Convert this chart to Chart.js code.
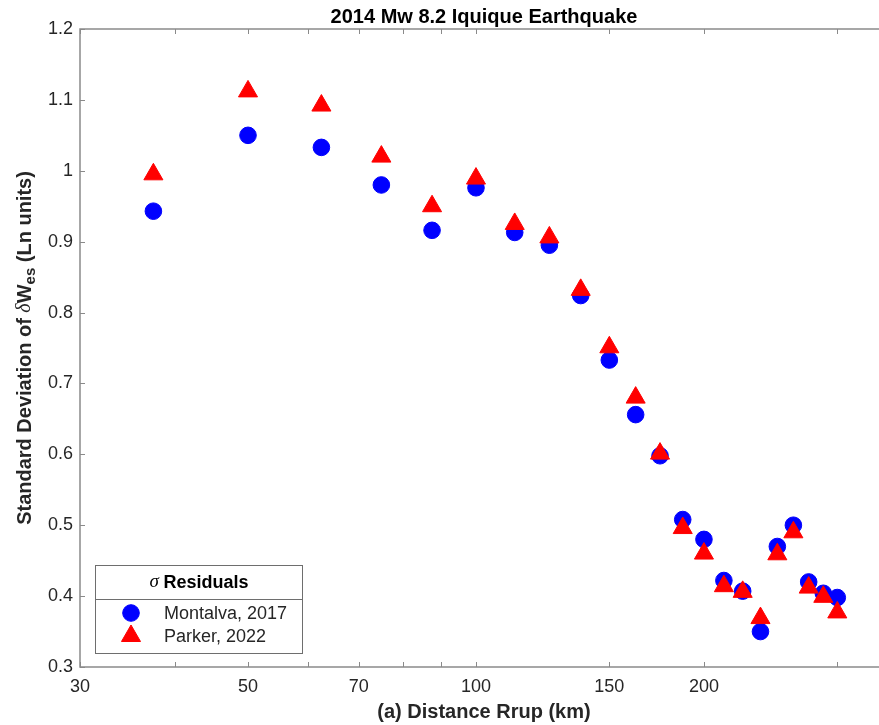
<!DOCTYPE html>
<html>
<head>
<meta charset="utf-8">
<script src="https://cdn.jsdelivr.net/npm/chart.js@4.4.1/dist/chart.umd.min.js"></script>
<style>
  html, body { margin: 0; padding: 0; background: #fff; }
  #wrap { width: 879px; height: 725px; overflow: hidden; }
</style>
</head>
<body>
<div id="wrap"><canvas id="chart" width="900" height="725"></canvas></div>
<script>
// rupture distance (km) and sigma of the within-event residuals
const distances = [37.5, 50, 62.5, 75, 87.5, 100, 112.5, 125, 137.5, 150, 162.5, 175, 187.5, 200, 212.5, 225, 237.5, 250, 262.5, 275, 287.5, 300];
const montalva = [0.943, 1.050, 1.033, 0.980, 0.916, 0.976, 0.913, 0.895, 0.824, 0.733, 0.656, 0.598, 0.508, 0.480, 0.422, 0.407, 0.350, 0.470, 0.500, 0.420, 0.404, 0.398];
const parker = [0.995, 1.112, 1.092, 1.020, 0.950, 0.989, 0.925, 0.906, 0.832, 0.751, 0.680, 0.601, 0.496, 0.460, 0.414, 0.406, 0.369, 0.459, 0.490, 0.412, 0.399, 0.377];
const xTicks = [30, 40, 50, 60, 70, 80, 90, 100, 150, 200, 300];
const xTickLabels = ['30', '', '50', '', '70', '', '', '100', '150', '200', ''];

const FONT = '"Liberation Sans", Arial, Helvetica, sans-serif';
const TEXT = '#262626';
const AXIS = '#8a8a8a';

Chart.defaults.font.family = FONT;

function toPoints(ys) {
    return distances.map((d, i) => ({ x: d, y: ys[i] }));
}

// box around the axes with inward tick marks
const axesBox = {
    id: 'axesBox',
    beforeDatasetsDraw(chart) {
        const { ctx, chartArea: a, scales } = chart;
        ctx.save();
        ctx.strokeStyle = AXIS;
        ctx.lineWidth = 1.5;
        ctx.strokeRect(a.left, a.top, a.right - a.left, a.bottom - a.top);
        ctx.lineWidth = 1;
        ctx.beginPath();
        scales.x.ticks.forEach(t => {
            const px = Math.round(scales.x.getPixelForValue(t.value)) + 0.5;
            ctx.moveTo(px, a.bottom); ctx.lineTo(px, a.bottom - 5);
            ctx.moveTo(px, a.top); ctx.lineTo(px, a.top + 5);
        });
        scales.y.ticks.forEach(t => {
            const py = Math.round(scales.y.getPixelForValue(t.value)) + 0.5;
            ctx.moveTo(a.left, py); ctx.lineTo(a.left + 5, py);
            ctx.moveTo(a.right, py); ctx.lineTo(a.right - 5, py);
        });
        ctx.stroke();
        ctx.restore();
    }
};

// rotated y label with the delta symbol and "es" subscript
const yLabel = {
    id: 'yLabel',
    afterDraw(chart) {
        const { ctx, chartArea: a } = chart;
        const bold = 'bold 20px ' + FONT;
        const parts = [
            { t: 'Standard Deviation of ', f: bold, dy: 0 },
            { t: 'δ', f: 'italic 20px "Liberation Serif", serif', dy: 0 },
            { t: 'W', f: bold, dy: 0 },
            { t: 'es', f: 'bold 15px ' + FONT, dy: 6 },
            { t: ' (Ln units)', f: bold, dy: 0 }
        ];
        ctx.save();
        let total = 0;
        parts.forEach(p => { ctx.font = p.f; p.w = ctx.measureText(p.t).width; total += p.w; });
        ctx.translate(25, (a.top + a.bottom) / 2);
        ctx.rotate(-Math.PI / 2);
        ctx.fillStyle = TEXT;
        ctx.textBaseline = 'middle';
        let x = -total / 2;
        parts.forEach(p => { ctx.font = p.f; ctx.fillText(p.t, x, p.dy); x += p.w; });
        ctx.restore();
    }
};

// boxed legend with a header row, lower-left of the axes
const residualLegend = {
    id: 'residualLegend',
    afterDraw(chart) {
        const ctx = chart.ctx;
        const bx = 95.5, by = 565.5, bw = 207, bh = 88, divY = 599.5;
        ctx.save();
        ctx.fillStyle = '#fff';
        ctx.fillRect(bx, by, bw, bh);
        ctx.strokeStyle = '#6e6e6e';
        ctx.lineWidth = 1;
        ctx.strokeRect(bx, by, bw, bh);
        ctx.beginPath(); ctx.moveTo(bx, divY); ctx.lineTo(bx + bw, divY); ctx.stroke();

        const sig = { t: 'σ ', f: 'italic 19px "Liberation Serif", serif' };
        const res = { t: 'Residuals', f: 'bold 18px ' + FONT };
        ctx.font = sig.f; const w1 = ctx.measureText(sig.t).width;
        ctx.font = res.f; const w2 = ctx.measureText(res.t).width;
        const tx = bx + bw / 2 - (w1 + w2) / 2;
        ctx.fillStyle = '#000';
        ctx.textBaseline = 'middle';
        ctx.font = sig.f; ctx.fillText(sig.t, tx, 582);
        ctx.font = res.f; ctx.fillText(res.t, tx + w1, 583);

        chart.data.datasets.forEach((ds, row) => {
            const y = 613 + row * 23;
            ctx.fillStyle = ds.pointBackgroundColor;
            ctx.strokeStyle = ds.pointBorderColor;
            ctx.lineWidth = ds.pointBorderWidth;
            Chart.helpers.drawPoint(ctx, {
                pointStyle: ds.pointStyle, rotation: 0,
                radius: ds.pointRadius, borderWidth: ds.pointBorderWidth
            }, 131, y);
            ctx.fillStyle = TEXT;
            ctx.font = '18px ' + FONT;
            ctx.fillText(ds.label, 164, y + 1);
        });
        ctx.restore();
    }
};

new Chart(document.getElementById('chart'), {
    type: 'scatter',
    data: {
        datasets: [{
            label: 'Montalva, 2017',
            data: toPoints(montalva),
            pointStyle: 'circle',
            pointRadius: 8.3,
            pointHoverRadius: 8.3,
            pointBorderWidth: 1,
            pointBackgroundColor: '#0000ff',
            pointBorderColor: '#0000ff',
            order: 2
        }, {
            label: 'Parker, 2022',
            data: toPoints(parker),
            pointStyle: 'triangle',
            pointRadius: 11,
            pointHoverRadius: 11,
            pointBorderWidth: 1,
            pointBackgroundColor: '#ff0000',
            pointBorderColor: '#ff0000',
            order: 1
        }]
    },
    options: {
        responsive: false,
        animation: false,
        events: [],
        layout: { padding: { left: 0, right: 10.2, top: 0, bottom: 0 } },
        plugins: {
            legend: { display: false },
            tooltip: { enabled: false },
            title: {
                display: true,
                fullSize: false,
                text: '2014 Mw 8.2 Iquique Earthquake',
                color: '#000',
                font: { size: 20, weight: 'bold' },
                padding: { top: 5, bottom: 0 }
            }
        },
        scales: {
            x: {
                type: 'logarithmic',
                min: 30,
                max: 350,
                afterBuildTicks(scale) { scale.ticks = xTicks.map(v => ({ value: v })); },
                afterFit(scale) { scale.height = 58; },
                grid: { display: false, drawTicks: false },
                border: { display: false },
                ticks: {
                    autoSkip: false,
                    maxRotation: 0,
                    padding: 9,
                    color: TEXT,
                    font: { size: 18 },
                    callback: (v, i) => xTickLabels[i]
                },
                title: {
                    display: true,
                    text: '(a) Distance Rrup (km)',
                    color: TEXT,
                    font: { size: 20, weight: 'bold' },
                    padding: { top: 2, bottom: 1 }
                }
            },
            y: {
                min: 0.3,
                max: 1.2,
                afterFit(scale) { scale.width = 80; },
                grid: { display: false, drawTicks: false },
                border: { display: false },
                ticks: {
                    stepSize: 0.1,
                    padding: 7,
                    color: TEXT,
                    font: { size: 18 },
                    callback: v => String(+v.toFixed(1))
                }
            }
        }
    },
    plugins: [axesBox, yLabel, residualLegend]
});
</script>
</body>
</html>
